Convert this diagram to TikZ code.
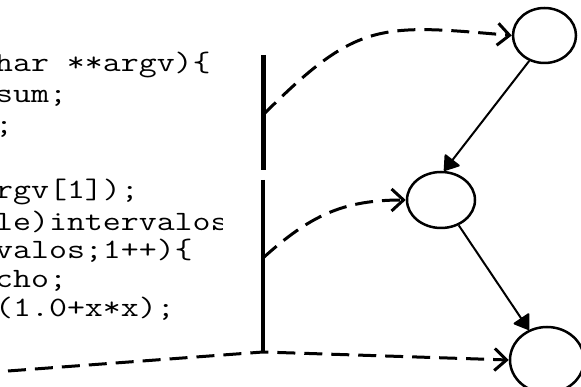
\documentclass[tikz,border=0pt]{standalone}
\usepackage{fontspec}
\usepackage{graphicx}
\usetikzlibrary{arrows.meta, shapes.geometric, positioning}

\newcommand{\codesize}{\fontsize{28}{30}\selectfont\ttfamily}
\newcommand{\wide}[1]{\scalebox{1.245}[1]{#1}}

\begin{document}
\begin{tikzpicture}[x=1pt, y=1pt,
  proc/.style={draw, ellipse, line width=2.5pt, inner sep=0pt},
  thread/.style={line width=5pt},
  flow/.style={line width=3pt, dash pattern=on 18pt off 9pt, -{Straight Barb[length=12pt,width=22pt]}},
  link/.style={line width=2pt, -{Triangle[length=15pt,width=20pt,round]}},
  codeline/.style={anchor=base west, inner sep=0pt, font=\codesize}]
  \useasboundingbox (0,0) rectangle (581,387);

  % Source code (cut on the left)
  \begin{scope}
    \clip (0,0) rectangle (222,387);
    \node[codeline] (l1) at (-5,315) {\wide{har **argv)\{}};
    \node[codeline] (l2) at (-5,284) {\wide{sum;}};
    \node[codeline] (l3) at (-5,253) {\wide{;}};
    \node[codeline] (l4) at (-5,188) {\wide{rgv[1]);}};
    \node[codeline] (l5) at (-5,156) {\wide{le)intervalos}};
    \node[codeline] (l6) at (-5,128) {\wide{valos;1++)\{}};
    \node[codeline] (l7) at (-5,99) {\wide{cho;}};
    \node[codeline] (l8) at (-5,70) {\wide{(1.0+x*x);}};
  \end{scope}

  % Processes
  \node[proc, minimum width=63pt, minimum height=55pt] (p0) at (544.5,351.5) {};
  \node[proc, minimum width=68pt, minimum height=56pt] (p1) at (441,187) {};
  \node[proc, minimum width=74pt, minimum height=66pt] (p2) at (547,27) {};

  % Master thread
  \coordinate (bartop) at (263,332);
  \coordinate (cut1) at (263,217);
  \coordinate (cut2) at (263,207);
  \coordinate (barbot) at (263,35);
  \coordinate (s1) at (263,272);
  \coordinate (s2) at (263,129);
  \coordinate (entry) at (8,16);
  \draw[thread] (bartop) -- (cut1);
  \draw[thread, line width=3.5pt] (cut2) -- (barbot);

  % Spawn messages
  \draw[flow] (s1) to[out=45, in=175, looseness=1.3] (p0.west);
  \draw[flow] (s2) to[out=42, in=180, looseness=1.05] (p1.west);
  \draw[flow] (entry) -- (barbot) -- (p2.west);

  % Links between processes
  \draw[link] (p0.239) -- (p1.84);
  \draw[link] (p1.305) -- (p2.121);
\end{tikzpicture}
\end{document}
